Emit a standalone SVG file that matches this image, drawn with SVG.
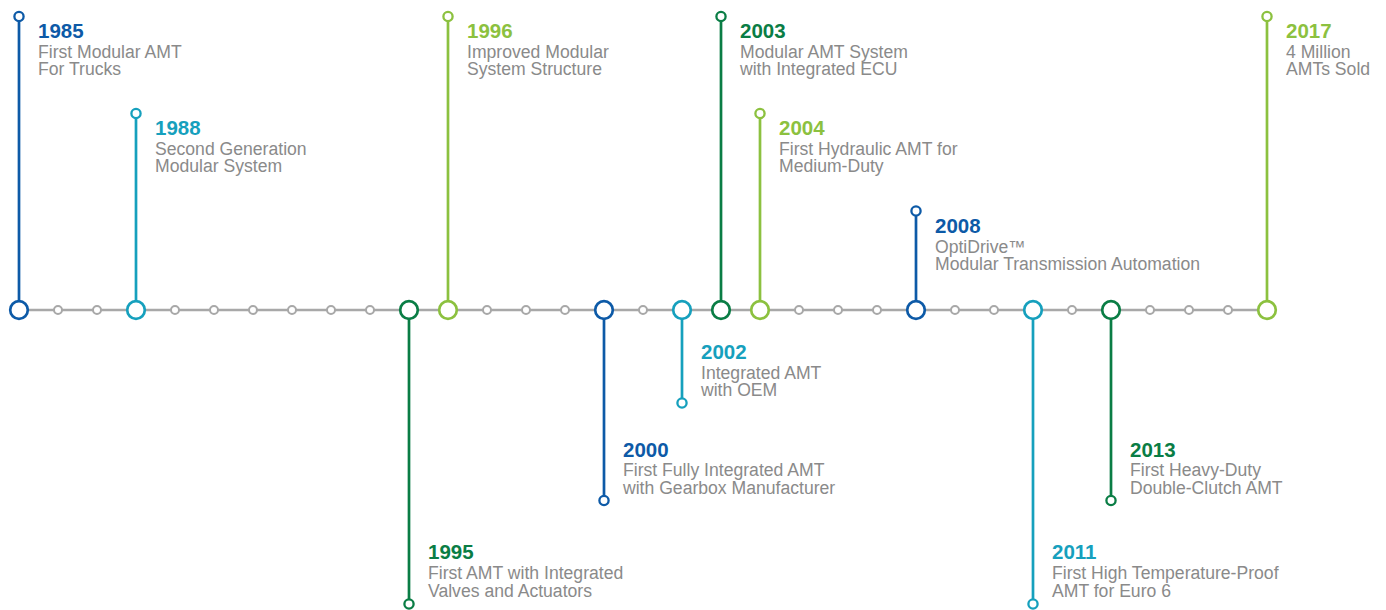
<svg xmlns="http://www.w3.org/2000/svg" width="1386" height="610" viewBox="0 0 1386 610">
<style>
.yr{font-family:"Liberation Sans",Arial,sans-serif;font-weight:bold;font-size:20.5px}
.ds{font-family:"Liberation Sans",Arial,sans-serif;font-size:17.6px;fill:#8a8a8a}
.tick{fill:#fff;stroke:#a8a8a8;stroke-width:2}
.major{fill:#fff;stroke-width:2.7}
.end{fill:#fff;stroke-width:2.3}
.stem{stroke-width:2.7;fill:none}
.db{stroke:#0d5aa7}.tl{stroke:#16a0bd}.dg{stroke:#0a7d45}.lg{stroke:#8cc13f}
.fdb{fill:#0d5aa7}.ftl{fill:#16a0bd}.fdg{fill:#0a7d45}.flg{fill:#8cc13f}
</style>
<rect width="1386" height="610" fill="#fff"/>
<g id="connectors">
<line x1="19" y1="310" x2="1267" y2="310" stroke="#a8a8a8" stroke-width="2.7"/>
<line class="stem db" x1="19" y1="21" x2="19" y2="301"/>
<line class="stem tl" x1="136" y1="118" x2="136" y2="301"/>
<line class="stem dg" x1="409" y1="319" x2="409" y2="599"/>
<line class="stem lg" x1="448" y1="21" x2="448" y2="301"/>
<line class="stem db" x1="604" y1="319" x2="604" y2="496"/>
<line class="stem tl" x1="682" y1="319" x2="682" y2="398"/>
<line class="stem dg" x1="721" y1="21" x2="721" y2="301"/>
<line class="stem lg" x1="760" y1="118" x2="760" y2="301"/>
<line class="stem db" x1="916" y1="216" x2="916" y2="301"/>
<line class="stem tl" x1="1033" y1="319" x2="1033" y2="599"/>
<line class="stem dg" x1="1111" y1="319" x2="1111" y2="496"/>
<line class="stem lg" x1="1267" y1="21" x2="1267" y2="301"/>
</g>
<g id="ticks">
<circle class="tick" cx="58" cy="310" r="4"/><circle class="tick" cx="97" cy="310" r="4"/>
<circle class="tick" cx="175" cy="310" r="4"/><circle class="tick" cx="214" cy="310" r="4"/>
<circle class="tick" cx="253" cy="310" r="4"/><circle class="tick" cx="292" cy="310" r="4"/>
<circle class="tick" cx="331" cy="310" r="4"/><circle class="tick" cx="370" cy="310" r="4"/>
<circle class="tick" cx="487" cy="310" r="4"/><circle class="tick" cx="526" cy="310" r="4"/>
<circle class="tick" cx="565" cy="310" r="4"/><circle class="tick" cx="643" cy="310" r="4"/>
<circle class="tick" cx="799" cy="310" r="4"/><circle class="tick" cx="838" cy="310" r="4"/>
<circle class="tick" cx="877" cy="310" r="4"/><circle class="tick" cx="955" cy="310" r="4"/>
<circle class="tick" cx="994" cy="310" r="4"/><circle class="tick" cx="1072" cy="310" r="4"/>
<circle class="tick" cx="1150" cy="310" r="4"/><circle class="tick" cx="1189" cy="310" r="4"/>
<circle class="tick" cx="1228" cy="310" r="4"/>
</g>
<g id="n1985">
<circle class="major db" cx="19" cy="310" r="8.8"/><circle class="end db" cx="19" cy="16.5" r="4.6"/>
<text class="yr fdb" x="38" y="37.5">1985</text>
<text class="ds" x="38" y="57.5">First Modular AMT</text>
<text class="ds" x="38" y="75">For Trucks</text>
</g>
<g id="n1988">
<circle class="major tl" cx="136" cy="310" r="8.8"/><circle class="end tl" cx="136" cy="113.5" r="4.6"/>
<text class="yr ftl" x="155" y="134.5">1988</text>
<text class="ds" x="155" y="154.5">Second Generation</text>
<text class="ds" x="155" y="172">Modular System</text>
</g>
<g id="n1995">
<circle class="major dg" cx="409" cy="310" r="8.8"/><circle class="end dg" cx="409" cy="604" r="4.6"/>
<text class="yr fdg" x="428" y="559">1995</text>
<text class="ds" x="428" y="579">First AMT with Integrated</text>
<text class="ds" x="428" y="596.5">Valves and Actuators</text>
</g>
<g id="n1996">
<circle class="major lg" cx="448" cy="310" r="8.8"/><circle class="end lg" cx="448" cy="16.5" r="4.6"/>
<text class="yr flg" x="467" y="37.5">1996</text>
<text class="ds" x="467" y="57.5">Improved Modular</text>
<text class="ds" x="467" y="75">System Structure</text>
</g>
<g id="n2000">
<circle class="major db" cx="604" cy="310" r="8.8"/><circle class="end db" cx="604" cy="500.5" r="4.6"/>
<text class="yr fdb" x="623" y="456.5">2000</text>
<text class="ds" x="623" y="476">First Fully Integrated AMT</text>
<text class="ds" x="623" y="493.5">with Gearbox Manufacturer</text>
</g>
<g id="n2002">
<circle class="major tl" cx="682" cy="310" r="8.8"/><circle class="end tl" cx="682" cy="403" r="4.6"/>
<text class="yr ftl" x="701" y="358.5">2002</text>
<text class="ds" x="701" y="378.5">Integrated AMT</text>
<text class="ds" x="701" y="396">with OEM</text>
</g>
<g id="n2003">
<circle class="major dg" cx="721" cy="310" r="8.8"/><circle class="end dg" cx="721" cy="16.5" r="4.6"/>
<text class="yr fdg" x="740" y="37.5">2003</text>
<text class="ds" x="740" y="57.5">Modular AMT System</text>
<text class="ds" x="740" y="75">with Integrated ECU</text>
</g>
<g id="n2004">
<circle class="major lg" cx="760" cy="310" r="8.8"/><circle class="end lg" cx="760" cy="113.5" r="4.6"/>
<text class="yr flg" x="779" y="134.5">2004</text>
<text class="ds" x="779" y="154.5">First Hydraulic AMT for</text>
<text class="ds" x="779" y="172">Medium-Duty</text>
</g>
<g id="n2008">
<circle class="major db" cx="916" cy="310" r="8.8"/><circle class="end db" cx="916" cy="211" r="4.6"/>
<text class="yr fdb" x="935" y="232.5">2008</text>
<text class="ds" x="935" y="252.5">OptiDrive™</text>
<text class="ds" x="935" y="270">Modular Transmission Automation</text>
</g>
<g id="n2011">
<circle class="major tl" cx="1033" cy="310" r="8.8"/><circle class="end tl" cx="1033" cy="604" r="4.6"/>
<text class="yr ftl" x="1052" y="559">2011</text>
<text class="ds" x="1052" y="579">First High Temperature-Proof</text>
<text class="ds" x="1052" y="596.5">AMT for Euro 6</text>
</g>
<g id="n2013">
<circle class="major dg" cx="1111" cy="310" r="8.8"/><circle class="end dg" cx="1111" cy="500.5" r="4.6"/>
<text class="yr fdg" x="1130" y="456.5">2013</text>
<text class="ds" x="1130" y="476">First Heavy-Duty</text>
<text class="ds" x="1130" y="493.5">Double-Clutch AMT</text>
</g>
<g id="n2017">
<circle class="major lg" cx="1267" cy="310" r="8.8"/><circle class="end lg" cx="1267" cy="16.5" r="4.6"/>
<text class="yr flg" x="1286" y="37.5">2017</text>
<text class="ds" x="1286" y="57.5">4 Million</text>
<text class="ds" x="1286" y="75">AMTs Sold</text>
</g>
</svg>
